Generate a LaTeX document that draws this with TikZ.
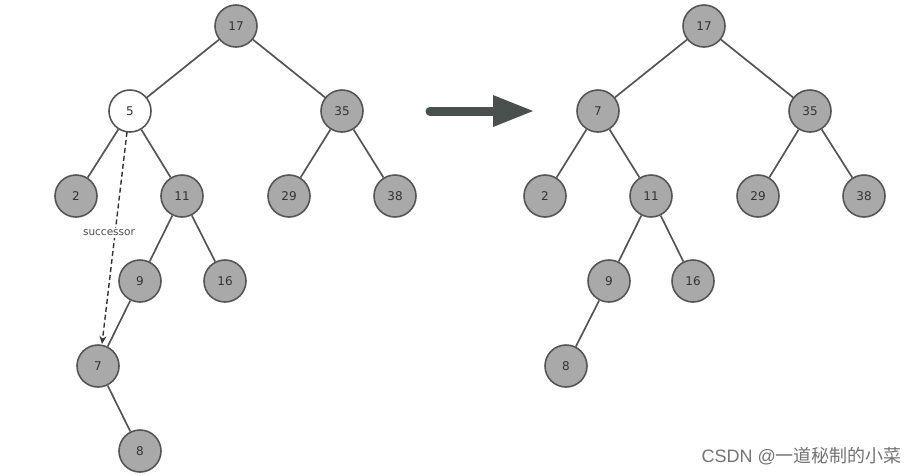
\documentclass[tikz,border=0pt]{standalone}
\usepackage{fontspec}
\setmainfont{DejaVu Sans}
\newfontfamily\cjk{Noto Sans CJK SC}
\newfontfamily\wmfont{Liberation Sans}
\usetikzlibrary{arrows.meta}
\definecolor{nodefill}{HTML}{A9A9A9}
\definecolor{nodeline}{HTML}{555555}
\definecolor{bigarrow}{HTML}{4A504E}
\tikzset{
  bst/.style={circle, draw=nodeline, line width=1.6pt, fill=nodefill, minimum size=42pt, inner sep=0pt, font=\fontsize{12}{14}\selectfont, text=black!80},
  emptybst/.style={bst, fill=white},
  edge/.style={draw=nodeline, line width=1.7pt},
}
\begin{document}
\begin{tikzpicture}[x=1pt,y=-1pt]
\useasboundingbox (0,0) rectangle (920,475);
% left tree
\node[bst] (l17) at (236,26) {17};
\node[emptybst] (l5) at (130,111) {5};
\node[bst] (l35) at (342,111) {35};
\node[bst] (l2) at (76,196) {2};
\node[bst] (l11) at (182,196) {11};
\node[bst] (l29) at (289,196) {29};
\node[bst] (l38) at (395,196) {38};
\node[bst] (l9) at (140,281) {9};
\node[bst] (l16) at (225,281) {16};
\node[bst] (l7) at (98,366) {7};
\node[bst] (l8) at (140,451) {8};
\foreach \a/\b in {l17/l5,l17/l35,l5/l2,l5/l11,l35/l29,l35/l38,l11/l9,l11/l16,l9/l7,l7/l8}
  \draw[edge] (\a) -- (\b);
\coordinate (sstart) at (127,132);
\coordinate (send) at (102,344);
\draw[dash pattern=on 5pt off 3pt, line width=1.4pt, draw=black!80, -{Stealth[length=8pt,width=7pt]}] (sstart) -- (send);
\node[fill=white, inner sep=1.5pt, font=\fontsize{10.5}{12}\selectfont, text=black!70] (succ) at (109,233) {successor};
% big arrow
\coordinate (astart) at (430,111);
\coordinate (aend) at (533,111);
\draw[bigarrow, line width=9pt, line cap=round] (astart) -- (497,111);
\fill[bigarrow] (493,95) -- (aend) -- (493,127) -- cycle;
% right tree
\node[bst] (r17) at (704,26) {17};
\node[bst] (r7) at (598,111) {7};
\node[bst] (r35) at (810,111) {35};
\node[bst] (r2) at (545,196) {2};
\node[bst] (r11) at (651,196) {11};
\node[bst] (r29) at (758,196) {29};
\node[bst] (r38) at (864,196) {38};
\node[bst] (r9) at (609,281) {9};
\node[bst] (r16) at (693,281) {16};
\node[bst] (r8) at (566,366) {8};
\foreach \a/\b in {r17/r7,r17/r35,r7/r2,r7/r11,r35/r29,r35/r38,r11/r9,r11/r16,r9/r8}
  \draw[edge] (\a) -- (\b);
% watermark
\node[anchor=east, text=black!55, font=\fontsize{18}{20}\selectfont, inner sep=0pt] (wm) at (902,456) {\wmfont CSDN @\cjk 一道秘制的小菜};
\end{tikzpicture}
\end{document}
